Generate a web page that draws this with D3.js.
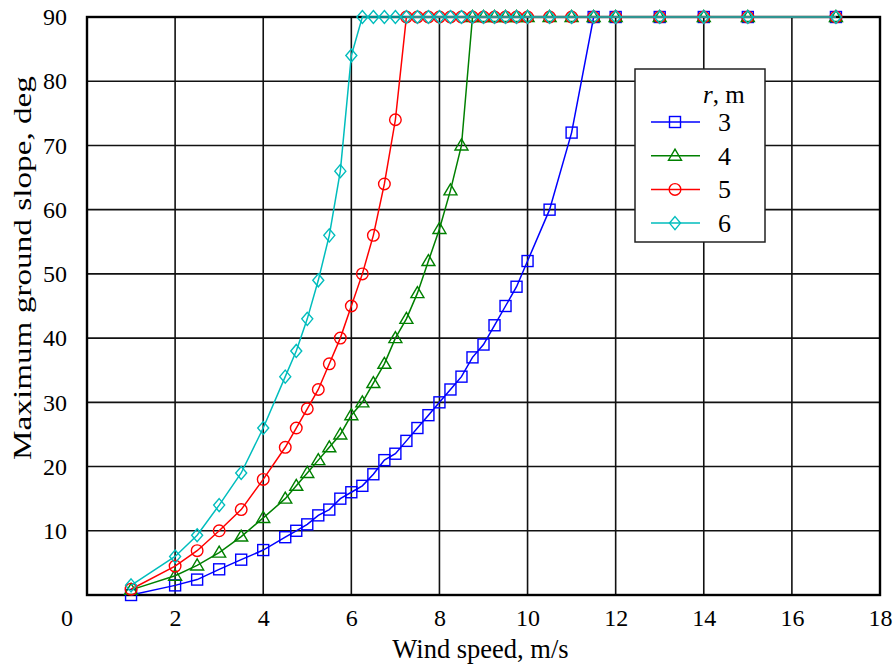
<!DOCTYPE html>
<html>
<head>
<meta charset="utf-8">
<script src="https://cdn.jsdelivr.net/npm/d3@7"></script>
<style>
  html, body { margin: 0; padding: 0; background: #fff; }
  svg { display: block; font-family: "Liberation Serif", "Times New Roman", serif; }
</style>
</head>
<body>
<svg id="chart" width="896" height="668"></svg>
<script>
// ---- Data ----
const speedsR3 = [1, 2, 2.5, 3, 3.5, 4, 4.5, 4.75, 5, 5.25, 5.5, 5.75, 6, 6.25, 6.5, 6.75, 7, 7.25, 7.5, 7.75, 8, 8.25, 8.5, 8.75, 9, 9.25, 9.5, 9.75, 10, 10.5, 11, 11.5, 12, 13, 14, 15, 17];
const slopeR3  = [0, 1.5, 2.4, 4, 5.5, 7, 9, 10, 11, 12.4, 13.3, 15, 16, 17, 18.8, 21, 22, 24, 26, 28, 30, 32, 34, 37, 39, 42, 45, 48, 52, 60, 72, 90, 90, 90, 90, 90, 90];

const speedsR4 = [1, 2, 2.5, 3, 3.5, 4, 4.5, 4.75, 5, 5.25, 5.5, 5.75, 6, 6.25, 6.5, 6.75, 7, 7.25, 7.5, 7.75, 8, 8.25, 8.5, 8.75, 9, 9.25, 9.5, 9.75, 10, 10.5, 11, 11.5, 12, 13, 14, 15, 17];
const slopeR4  = [0.8, 3, 4.6, 6.6, 9.1, 12, 15, 17, 19, 21, 23, 25, 28, 30, 33, 36, 40, 43, 47, 52, 57, 63, 70, 90, 90, 90, 90, 90, 90, 90, 90, 90, 90, 90, 90, 90, 90];

const speedsR5 = [1, 2, 2.5, 3, 3.5, 4, 4.5, 4.75, 5, 5.25, 5.5, 5.75, 6, 6.25, 6.5, 6.75, 7, 7.25, 7.5, 7.75, 8, 8.25, 8.5, 8.75, 9, 9.25, 9.5, 9.75, 10, 10.5, 11, 11.5, 12, 13, 14, 15, 17];
const slopeR5  = [0.9, 4.5, 6.9, 10, 13.3, 18, 23, 26, 29, 32, 36, 40, 45, 50, 56, 64, 74, 90, 90, 90, 90, 90, 90, 90, 90, 90, 90, 90, 90, 90, 90, 90, 90, 90, 90, 90, 90];

const speedsR6 = [1, 2, 2.5, 3, 3.5, 4, 4.5, 4.75, 5, 5.25, 5.5, 5.75, 6, 6.25, 6.5, 6.75, 7, 7.25, 7.5, 7.75, 8, 8.25, 8.5, 8.75, 9, 9.25, 9.5, 9.75, 10, 10.5, 11, 11.5, 12, 13, 14, 15, 17];
const slopeR6  = [1.5, 6, 9.3, 14, 19, 26, 34, 38, 43, 49, 56, 66, 84, 90, 90, 90, 90, 90, 90, 90, 90, 90, 90, 90, 90, 90, 90, 90, 90, 90, 90, 90, 90, 90, 90, 90, 90];

const seriesNames = ["3", "4", "5", "6"];
const xTicks = [0, 2, 4, 6, 8, 10, 12, 14, 16, 18];
const yTicks = [10, 20, 30, 40, 50, 60, 70, 80, 90];
const xTitle = "Wind speed, m/s";
const yTitle = "Maximum ground slope, deg";

// ---- Styles ----
const colors = ["#0000ff", "#008000", "#ff0000", "#00bdbd"];
const shapes = ["square", "triangle", "circle", "diamond"];

const svg = d3.select("#chart");
const margin = { left: 87, right: 16, top: 17, bottom: 73 };
const W = 896, H = 668;
const x = d3.scaleLinear().domain([0, 18]).range([margin.left, W - margin.right]);
const y = d3.scaleLinear().domain([0, 90]).range([H - margin.bottom, margin.top]);

// grid
const grid = svg.append("g");
grid.selectAll(".vg").data(xTicks.slice(1, -1)).enter().append("line")
  .attr("x1", d => x(d)).attr("x2", d => x(d))
  .attr("y1", y(0)).attr("y2", y(90))
  .attr("stroke", "#111").attr("stroke-width", 1.6);
grid.selectAll(".hg").data(yTicks.slice(0, -1)).enter().append("line")
  .attr("x1", x(0)).attr("x2", x(18))
  .attr("y1", d => y(d)).attr("y2", d => y(d))
  .attr("stroke", "#111").attr("stroke-width", 1.6);

// frame
svg.append("rect")
  .attr("x", x(0)).attr("y", y(90))
  .attr("width", x(18) - x(0)).attr("height", y(0) - y(90))
  .attr("fill", "none").attr("stroke", "#000").attr("stroke-width", 2.4);

// axes (labels only, via d3 axes)
const xAxis = d3.axisBottom(x).tickValues(xTicks).tickSize(0).tickPadding(14)
  .tickFormat(d3.format("d"));
const gx = svg.append("g").attr("transform", `translate(0,${y(0)})`).call(xAxis);
gx.select(".domain").remove();
gx.selectAll("text").attr("font-size", 24).attr("font-family", "Liberation Serif").attr("fill", "#000");
// The origin label sits at the lower-left corner
gx.selectAll(".tick").filter(d => d === 0).attr("transform", `translate(${x(0) - 20},0)`);

const yAxis = d3.axisLeft(y).tickValues(yTicks).tickSize(0).tickPadding(20)
  .tickFormat(d3.format("d"));
const gy = svg.append("g").attr("transform", `translate(${x(0)},0)`).call(yAxis);
gy.select(".domain").remove();
gy.selectAll("text").attr("font-size", 24).attr("font-family", "Liberation Serif").attr("fill", "#000");

// titles
svg.append("text").attr("x", (x(0) + x(18)) / 2 - 3).attr("y", 658)
  .attr("text-anchor", "middle").attr("font-size", 26.5).text(xTitle);
svg.append("text").attr("transform", `translate(31,268) rotate(-90)`)
  .attr("text-anchor", "middle").attr("font-size", 26)
  .attr("textLength", 384).attr("lengthAdjust", "spacingAndGlyphs").text(yTitle);

// marker helper
function marker(sel, shape, color) {
  if (shape === "square") {
    sel.append("rect").attr("x", -5.5).attr("y", -5.5).attr("width", 11).attr("height", 11)
      .attr("fill", "none").attr("stroke", color).attr("stroke-width", 1.4);
  } else if (shape === "circle") {
    sel.append("circle").attr("r", 5.8)
      .attr("fill", "none").attr("stroke", color).attr("stroke-width", 1.4);
  } else if (shape === "triangle") {
    sel.append("path").attr("d", "M0,-6.5 L6.5,4.5 L-6.5,4.5 Z")
      .attr("fill", "none").attr("stroke", color).attr("stroke-width", 1.4);
  } else {
    sel.append("path").attr("d", "M0,-6.5 L5.5,0 L0,6.5 L-5.5,0 Z")
      .attr("fill", "none").attr("stroke", color).attr("stroke-width", 1.4);
  }
}

const allSeries = [
  { xs: speedsR3, ys: slopeR3 },
  { xs: speedsR4, ys: slopeR4 },
  { xs: speedsR5, ys: slopeR5 },
  { xs: speedsR6, ys: slopeR6 }
];

const line = d3.line().x(d => x(d[0])).y(d => y(d[1]));
allSeries.forEach((s, i) => {
  const pts = s.xs.map((v, k) => [v, s.ys[k]]);
  const g = svg.append("g");
  g.append("path").datum(pts).attr("d", line)
    .attr("fill", "none").attr("stroke", colors[i]).attr("stroke-width", 1.5);
  g.selectAll(".m").data(pts).enter().append("g")
    .attr("transform", d => `translate(${x(d[0])},${y(d[1])})`)
    .each(function () { marker(d3.select(this), shapes[i], colors[i]); });
});

// legend
const lg = svg.append("g").attr("transform", "translate(635,69)");
lg.append("rect").attr("width", 130).attr("height", 173)
  .attr("fill", "#fff").attr("stroke", "#222").attr("stroke-width", 1.5);
const lt = lg.append("text").attr("x", 68).attr("y", 34).attr("font-size", 25);
lt.append("tspan").attr("font-style", "italic").text("r");
lt.append("tspan").text(", m");
seriesNames.forEach((name, i) => {
  const cy = 53 + i * 33.7;
  lg.append("line").attr("x1", 16).attr("x2", 65).attr("y1", cy).attr("y2", cy)
    .attr("stroke", colors[i]).attr("stroke-width", 1.5);
  const mg = lg.append("g").attr("transform", `translate(40,${cy})`);
  marker(mg, shapes[i], colors[i]);
  lg.append("text").attr("x", 83).attr("y", cy + 9).attr("font-size", 26).text(name);
});
</script>
</body>
</html>
